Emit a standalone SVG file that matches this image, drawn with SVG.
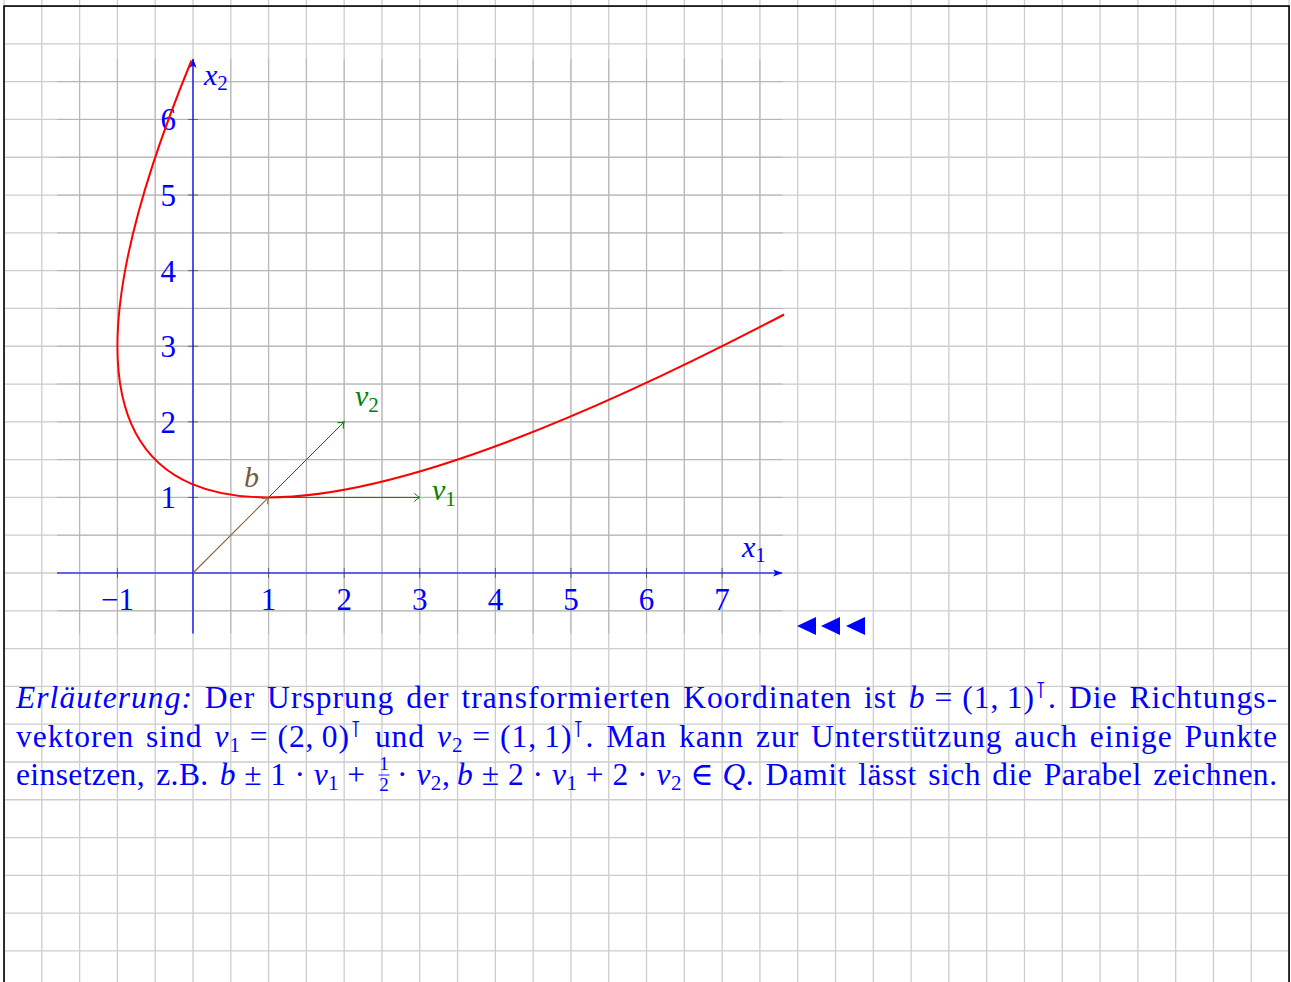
<svg xmlns="http://www.w3.org/2000/svg" width="1291" height="982" viewBox="0 0 1291 982">
<style>
.pg{stroke:#cdcdcd;stroke-width:1.3;fill:none}
.plg{stroke:#b5b5b5;stroke-width:1;fill:none}
.tick{stroke:#666;stroke-width:1;fill:none}
.axis{stroke:#0000ff;stroke-width:1.2;fill:none}
.num{font-family:"Liberation Serif","DejaVu Serif",serif;font-size:31px;fill:#0000ff}
.lbl{font-family:"Liberation Serif","DejaVu Serif",serif;font-size:30px;font-style:italic}
.body{font-family:"Liberation Serif","DejaVu Serif",serif;font-size:31.5px;fill:#0000ff;word-spacing:3px}
.it{font-style:italic}
.sub{font-size:21px;font-style:normal}
.sup{font-size:23px;font-style:normal;font-family:"DejaVu Sans",sans-serif}
.green{stroke:#008000;stroke-width:1;fill:none}
.brown{stroke:#8b6540;stroke-width:1.1;fill:none}
</style>
<defs>
<marker id="axArrow" markerUnits="userSpaceOnUse" viewBox="-10 -5 11 10" refX="0" refY="0" markerWidth="11" markerHeight="10" orient="auto">
<path d="M0.5,0 L-9,-3.6 L-6.5,0 L-9,3.6 Z" fill="#0000ff"/>
</marker>
<marker id="gArrow" markerUnits="userSpaceOnUse" viewBox="-7 -5 8 10" refX="0" refY="0" markerWidth="8" markerHeight="10" orient="auto">
<path d="M-5.5,-4.2 Q-2,-0.8 0,0 Q-2,0.8 -5.5,4.2" stroke="#008000" stroke-width="1" fill="none"/>
</marker>
<marker id="bArrow" markerUnits="userSpaceOnUse" viewBox="-7 -5 8 10" refX="0" refY="0" markerWidth="8" markerHeight="10" orient="auto">
<path d="M-5.5,-4.2 Q-2,-0.8 0,0 Q-2,0.8 -5.5,4.2" stroke="#8b6540" stroke-width="1.1" fill="none"/>
</marker>
</defs>
<rect x="0" y="0" width="1291" height="982" fill="#ffffff"/>
<g id="page-grid" class="pg">
<path d="M4.03 0V982M41.82 0V982M79.62 0V982M117.41 0V982M155.21 0V982M193 0V982M230.8 0V982M268.59 0V982M306.39 0V982M344.18 0V982M381.98 0V982M419.77 0V982M457.57 0V982M495.36 0V982M533.16 0V982M570.95 0V982M608.75 0V982M646.54 0V982M684.34 0V982M722.13 0V982M759.93 0V982M797.72 0V982M835.52 0V982M873.31 0V982M911.11 0V982M948.9 0V982M986.7 0V982M1024.49 0V982M1062.29 0V982M1100.08 0V982M1137.88 0V982M1175.67 0V982M1213.47 0V982M1251.26 0V982M1289.06 0V982"/>
<path d="M4 6.08H1289M4 43.88H1289M4 81.67H1289M4 119.47H1289M4 157.26H1289M4 195.06H1289M4 232.85H1289M4 270.65H1289M4 308.44H1289M4 346.24H1289M4 384.03H1289M4 421.83H1289M4 459.62H1289M4 497.42H1289M4 535.21H1289M4 573H1289M4 610.8H1289M4 648.59H1289M4 686.39H1289M4 724.18H1289M4 761.98H1289M4 799.77H1289M4 837.57H1289M4 875.36H1289M4 913.16H1289M4 950.95H1289"/>
</g>
<rect id="frame" x="4.03" y="6.08" width="1285.03" height="1000" fill="none" stroke="#000" stroke-width="1.6"/>
<g id="plot-grid" class="plg">
<path d="M79.62 59V633.5M117.41 59V633.5M155.21 59V633.5M193 59V633.5M230.8 59V633.5M268.59 59V633.5M306.39 59V633.5M344.18 59V633.5M381.98 59V633.5M419.77 59V633.5M457.57 59V633.5M495.36 59V633.5M533.16 59V633.5M570.95 59V633.5M608.75 59V633.5M646.54 59V633.5M684.34 59V633.5M722.13 59V633.5M759.93 59V633.5"/>
<path d="M57 81.67H782.6M57 119.47H782.6M57 157.26H782.6M57 195.06H782.6M57 232.85H782.6M57 270.65H782.6M57 308.44H782.6M57 346.24H782.6M57 384.03H782.6M57 421.83H782.6M57 459.62H782.6M57 497.42H782.6M57 535.21H782.6M57 573H782.6M57 610.8H782.6"/>
</g>
<g id="ticks" class="tick">
<path d="M117.41 568V578M268.59 568V578M344.18 568V578M419.77 568V578M495.36 568V578M570.95 568V578M646.54 568V578M722.13 568V578"/>
<path d="M188 497.42H198M188 421.83H198M188 346.24H198M188 270.65H198M188 195.06H198M188 119.47H198"/>
</g>
<g id="axes">
<path class="axis" d="M57 573H782" marker-end="url(#axArrow)"/>
<path class="axis" d="M193 633.5V59" marker-end="url(#axArrow)"/>
</g>
<g id="tick-labels" class="num">
<text x="117.4" y="610" text-anchor="middle">−1</text>
<text x="268.6" y="610" text-anchor="middle">1</text>
<text x="344.2" y="610" text-anchor="middle">2</text>
<text x="419.8" y="610" text-anchor="middle">3</text>
<text x="495.4" y="610" text-anchor="middle">4</text>
<text x="571" y="610" text-anchor="middle">5</text>
<text x="646.5" y="610" text-anchor="middle">6</text>
<text x="722.1" y="610" text-anchor="middle">7</text>
<text x="176" y="508.4" text-anchor="end">1</text>
<text x="176" y="432.8" text-anchor="end">2</text>
<text x="176" y="357.2" text-anchor="end">3</text>
<text x="176" y="281.6" text-anchor="end">4</text>
<text x="176" y="206" text-anchor="end">5</text>
<text x="176" y="130.4" text-anchor="end">6</text>
</g>
<g id="axis-label-x1"><text class="lbl" x="742" y="557" fill="#0000ff">x<tspan class="sub" dy="5">1</tspan></text></g>
<g id="axis-label-x2"><text class="lbl" x="204" y="85" fill="#0000ff">x<tspan class="sub" dy="5">2</tspan></text></g>
<g id="parabola">
<path d="M191.5 60.5Q-104.8 780.1 784.1 314.5" fill="none" stroke="#ff0000" stroke-width="2"/>
</g>
<g id="connectors">
<path class="brown" d="M193 573L268.59 497.41" marker-end="url(#bArrow)"/>
<path class="green" d="M268.59 497.41H419.77" marker-end="url(#gArrow)"/>
<path class="green" d="M268.59 497.41L344.18 421.83" marker-end="url(#gArrow)"/>
</g>
<g id="label-b"><text class="lbl" x="244" y="487" fill="#7a5a3a">b</text></g>
<g id="label-v1"><text class="lbl" x="432" y="500" fill="#008000">v<tspan class="sub" dy="6">1</tspan></text></g>
<g id="label-v2"><text class="lbl" x="355" y="406" fill="#008000">v<tspan class="sub" dy="6">2</tspan></text></g>
<g id="nav-triangles" fill="#0000ff">
<polygon points="797,626 816,617 816,635"/>
<polygon points="821,626 840,617 840,635"/>
<polygon points="846,626 865,617 865,635"/>
</g>
<g id="explanation" class="body">
<text x="16" y="708" textLength="1261" lengthAdjust="spacing"><tspan class="it">Erläuterung:</tspan> Der Ursprung der transformierten Koordinaten ist <tspan class="it">b</tspan>&#x2005;=&#x2005;(1,&#x2009;1)<tspan class="sup" dy="-10">⊺</tspan><tspan dy="10">. Die Richtungs-</tspan></text>
<text x="16" y="747" textLength="1261" lengthAdjust="spacing">vektoren sind <tspan class="it">v</tspan><tspan class="sub" dy="5">1</tspan><tspan dy="-5">&#x2005;=&#x2005;(2,&#x2009;0)</tspan><tspan class="sup" dy="-10">⊺</tspan><tspan dy="10"> und </tspan><tspan class="it">v</tspan><tspan class="sub" dy="5">2</tspan><tspan dy="-5">&#x2005;=&#x2005;(1,&#x2009;1)</tspan><tspan class="sup" dy="-10">⊺</tspan><tspan dy="10">. Man kann zur Unterstützung auch einige Punkte</tspan></text>
<text x="16" y="785" textLength="349" lengthAdjust="spacing">einsetzen, z.B. <tspan class="it">b</tspan>&#x2005;±&#x2005;1&#x2005;·&#x2005;<tspan class="it">v</tspan><tspan class="sub" dy="5">1</tspan><tspan dy="-5">&#x2005;+</tspan></text>
<text x="384" y="770" text-anchor="middle" style="font-size:19px">1</text>
<path d="M378.5 775H389.5" stroke="#0000ff" stroke-width="0.9"/>
<text x="384" y="791" text-anchor="middle" style="font-size:19px">2</text>
<text x="397" y="785" textLength="880" lengthAdjust="spacing">·&#x2005;<tspan class="it">v</tspan><tspan class="sub" dy="5">2</tspan><tspan dy="-5">,&#x2009;</tspan><tspan class="it">b</tspan>&#x2005;±&#x2005;2&#x2005;·&#x2005;<tspan class="it">v</tspan><tspan class="sub" dy="5">1</tspan><tspan dy="-5">&#x2005;+&#x2005;2&#x2005;·&#x2005;</tspan><tspan class="it">v</tspan><tspan class="sub" dy="5">2</tspan><tspan dy="-5">&#x2005;∈&#x2005;</tspan><tspan class="it">Q</tspan>. Damit lässt sich die Parabel zeichnen.</text>
</g>
</svg>
